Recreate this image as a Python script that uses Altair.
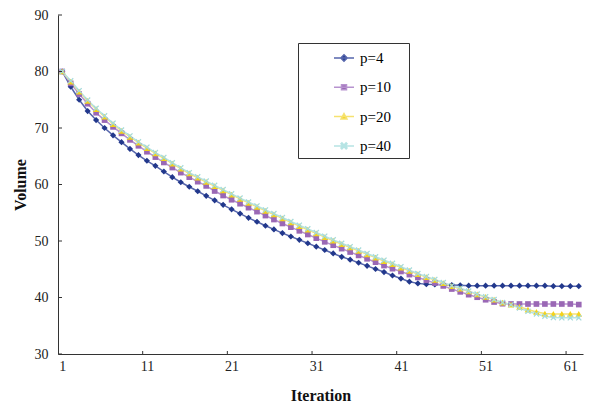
import altair as alt
import pandas as pd

# ---------------- data ----------------
iterations = list(range(1, 63))

p4 = [80.0, 77.3, 75.0, 73.0, 71.4, 70.0, 68.7, 67.5, 66.3, 65.2,
      64.2, 63.3, 62.3, 61.3, 60.4, 59.6, 58.8, 58.0, 57.2, 56.4,
      55.6, 54.85, 54.1, 53.4, 52.7, 52.05, 51.4, 50.8, 50.2, 49.6,
      49.0, 48.4, 47.8, 47.2, 46.7, 46.15, 45.6, 45.05, 44.5, 43.9,
      43.35, 42.8, 42.5, 42.35, 42.3, 42.25, 42.2, 42.15, 42.1, 42.1,
      42.1, 42.1, 42.1, 42.1, 42.1, 42.1, 42.1, 42.1, 42.0, 42.0,
      42.0, 42.0]

p10 = [80.0, 77.9, 76.0, 74.3, 72.7, 71.4, 70.2, 69.05, 67.9, 66.85,
       65.8, 64.85, 63.9, 63.0, 62.1, 61.3, 60.5, 59.75, 58.85, 58.05,
       57.3, 56.6, 55.9, 55.2, 54.5, 53.8, 53.1, 52.45, 51.8, 51.15,
       50.5, 49.85, 49.25, 48.65, 48.05, 47.45, 46.85, 46.25, 45.65, 45.1,
       44.6, 44.05, 43.55, 43.05, 42.55, 42.05, 41.5, 41.0, 40.5, 40.05,
       39.6, 39.2, 38.9, 38.85, 38.85, 38.85, 38.85, 38.85, 38.85, 38.85,
       38.85, 38.75]

p20 = [80.0, 78.2, 76.45, 74.8, 73.35, 72.0, 70.7, 69.5, 68.45, 67.4,
       66.45, 65.5, 64.65, 63.7, 62.8, 61.95, 61.2, 60.45, 59.7, 58.95,
       58.2, 57.45, 56.75, 56.05, 55.35, 54.7, 54.0, 53.3, 52.65, 52.0,
       51.35, 50.7, 50.05, 49.45, 48.85, 48.25, 47.65, 47.05, 46.45, 45.9,
       45.3, 44.72, 44.13, 43.6, 43.1, 42.55, 42.0, 41.55, 41.08, 40.55,
       40.1, 39.62, 39.1, 38.75, 38.35, 37.87, 37.44, 37.15, 37.1, 37.1,
       37.1, 37.1]

p40 = [80.0, 78.35, 76.6, 74.95, 73.5, 72.15, 70.85, 69.65, 68.6, 67.55,
       66.6, 65.65, 64.8, 63.85, 62.95, 62.1, 61.35, 60.6, 59.85, 59.1,
       58.35, 57.6, 56.9, 56.2, 55.5, 54.85, 54.15, 53.45, 52.8, 52.15,
       51.5, 50.85, 50.2, 49.6, 49.0, 48.4, 47.8, 47.2, 46.6, 46.05,
       45.45, 44.85, 44.25, 43.7, 43.2, 42.65, 42.1, 41.65, 41.15, 40.6,
       40.15, 39.65, 39.1, 38.7, 38.15, 37.57, 37.09, 36.69, 36.45, 36.4,
       36.4, 36.4]

series_names = ["p=4", "p=10", "p=20", "p=40"]
series_values = [p4, p10, p20, p40]

x_label_values = [1, 11, 21, 31, 41, 51, 61]
x_tick_values = [10.5, 20.5, 30.5, 40.5, 50.5, 60.5]
y_values = [30, 40, 50, 60, 70, 80, 90]

# ---------------- styles ----------------
marker_colors = ["#22388C", "#9A68B5", "#F3D21C", "#A6DADA"]
line_colors = ["#5666AC", "#B793CF", "#F6E270", "#B6E4E4"]

X_PATH = ("M-1,-0.7L-0.7,-1L0,-0.3L0.7,-1L1,-0.7L0.3,0L1,0.7L0.7,1"
          "L0,0.3L-0.7,1L-1,0.7L-0.3,0Z")
marker_shapes = ["diamond", "square", "triangle-up", X_PATH]
marker_sizes = [38, 32, 44, 36]

legend_paths = [
    "M-1,0L1,0M0,-0.32L0.32,0L0,0.32L-0.32,0Z",
    "M-1,0L1,0M-0.25,-0.25L0.25,-0.25L0.25,0.25L-0.25,0.25Z",
    "M-1,0L1,0M0,-0.3L0.3,0.25L-0.3,0.25Z",
    "M-1,0L1,0M-0.3,-0.21L-0.21,-0.3L0,-0.09L0.21,-0.3L0.3,-0.21L0.09,0"
    "L0.3,0.21L0.21,0.3L0,0.09L-0.21,0.3L-0.3,0.21L-0.09,0Z",
]

FONT = "Liberation Serif"
W, H = 525, 339

rows = []
for name, vals in zip(series_names, series_values):
    for it, v in zip(iterations, vals):
        rows.append({"iter": it, "series": name, "value": v})
df = pd.DataFrame(rows)
xticks_df = pd.DataFrame({"iter": x_tick_values})
yticks_df = pd.DataFrame({"value": y_values})

xscale = alt.Scale(domain=[0.5, 62.5], nice=False, zero=False)
yscale = alt.Scale(domain=[30, 90], nice=False, zero=False)

x_main_axis = alt.Axis(
    orient="bottom", values=x_label_values, ticks=False, tickSize=0, grid=False,
    labelFont=FONT, labelFontSize=14, labelColor="#222", labelPadding=5,
    labelFlush=False, domainColor="#333", domainWidth=1,
    title="Iteration", titleFont=FONT, titleFontSize=16, titleFontWeight="bold",
    titleColor="#111", titlePadding=14,
)
y_main_axis = alt.Axis(
    orient="left", values=y_values, ticks=False, tickSize=0, grid=False,
    labelFont=FONT, labelFontSize=14, labelColor="#222", labelPadding=10,
    labelFlush=False, domainColor="#333", domainWidth=1,
    title="Volume", titleFont=FONT, titleFontSize=16, titleFontWeight="bold",
    titleColor="#111", titlePadding=6,
)

X = alt.X("iter:Q", scale=xscale, axis=x_main_axis)
Y = alt.Y("value:Q", scale=yscale, axis=y_main_axis)

layers = []
# lines, one layer per series
for name, lc in zip(series_names, line_colors):
    layers.append(
        alt.Chart(df).transform_filter(alt.datum.series == name)
        .mark_line(strokeWidth=1.5, color=lc)
        .encode(x=X, y=Y)
    )

# markers, one layer per series
for name, col, shp, sz in zip(series_names, marker_colors, marker_shapes, marker_sizes):
    layers.append(
        alt.Chart(df).transform_filter(alt.datum.series == name)
        .mark_point(filled=True, shape=shp, size=sz, color=col, opacity=1)
        .encode(x=X, y=Y)
    )

# inward tick marks (at category boundaries on x, at values on y)
layers.append(
    alt.Chart(xticks_df).mark_rule(color="#333", strokeWidth=1).encode(
        x=X, y=alt.value(H), y2=alt.value(H - 3),
    )
)
layers.append(
    alt.Chart(yticks_df).mark_rule(color="#333", strokeWidth=1).encode(
        y=Y, x=alt.value(0), x2=alt.value(4),
    )
)

legend_def = alt.Legend(
    title="\u00a0", titleOrient="right", titlePadding=14, titleFontSize=15,
    titleFont=FONT,
    orient="none", legendX=240, legendY=28, direction="vertical",
    padding=4, symbolOffset=31, labelOffset=5, rowPadding=10.3,
    labelFont=FONT, labelFontSize=15, labelColor="#000",
    strokeColor="#333", fillColor="white", symbolSize=400, symbolStrokeWidth=1.5,
)

# legend-only layer: its own marks sit outside the plot and are clipped away
layers.append(
    alt.Chart(df).mark_point(
        filled=True, size=400, strokeWidth=1.5, opacity=1, clip=True
    ).encode(
        x=alt.value(-500),
        y=alt.value(-500),
        fill=alt.Fill("series:N", scale=alt.Scale(domain=series_names, range=marker_colors),
                      legend=legend_def),
        stroke=alt.Stroke("series:N", scale=alt.Scale(domain=series_names, range=line_colors),
                          legend=legend_def),
        shape=alt.Shape("series:N", scale=alt.Scale(domain=series_names, range=legend_paths),
                        legend=legend_def),
    )
)

chart = alt.layer(*layers).properties(
    width=W, height=H,
    autosize=alt.AutoSizeParams(type="none"),
    padding={"left": 50, "top": 7, "right": 2, "bottom": 53},
    background="white",
).configure_view(strokeWidth=0)

chart.save("out.html", embed_options={"renderer": "svg", "actions": False})
